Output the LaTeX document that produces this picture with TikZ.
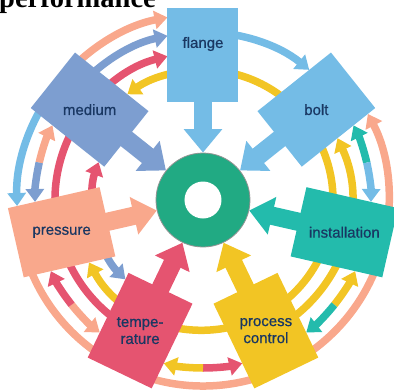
\documentclass[tikz,border=0pt]{standalone}
\usepackage{fontspec}
\setmainfont{Liberation Sans}
\newfontfamily\headfont{Liberation Serif}
\newfontfamily\boxfont{Liberation Sans}[FakeBold=0.6]
\usetikzlibrary{arrows.meta}

\definecolor{cflange}{RGB}{116,188,230}
\definecolor{cbolt}{RGB}{116,188,230}
\definecolor{cinstall}{RGB}{35,187,172}
\definecolor{cprocess}{RGB}{242,197,36}
\definecolor{ctemp}{RGB}{229,84,112}
\definecolor{cpressure}{RGB}{249,168,140}
\definecolor{cmedium}{RGB}{125,158,208}
\definecolor{cring}{RGB}{33,170,131}
\definecolor{ctext}{RGB}{25,55,98}

% colour, radius, start angle, end angle
\newcommand\flowarc[4]{\draw[flow,color=#1] (#3:#2pt) arc[start angle=#3,end angle=#4,radius=#2pt];}

\begin{document}
\begin{tikzpicture}[x=1pt,y=1pt]
\tikzstyle{box}=[rectangle,inner sep=0,outer sep=0,minimum width=71pt,minimum height=94pt]
\tikzstyle{boxtext}=[text=ctext,font=\boxfont\fontsize{15}{17}\selectfont,align=center,inner sep=0]
\tikzstyle{flow}=[line width=7.5pt,-{Triangle[width=18pt,length=13pt]}]
\tikzstyle{fat}=[line width=18.3pt,-{Triangle[width=37pt,length=23.4pt]},shorten <=-2pt]

\useasboundingbox (-203,-189) rectangle (191,200);
\clip (-203,-189) rectangle (191,200);

\node[anchor=base west,inner sep=0,font=\headfont\bfseries\fontsize{28.5}{30}\selectfont] (title) at (-204,193) {performance};

% outer ring
\flowarc{cflange}{186}{141.43}{181.85}
\flowarc{cpressure}{186}{141.43}{101.00}
\flowarc{cpressure}{186}{192.86}{387.57}

% neighbours
\flowarc{cmedium}{168}{141.43}{102.20}
\flowarc{cflange}{168}{90}{50.77}
\flowarc{cinstall}{168}{12.86}{26.37}
\flowarc{cbolt}{168}{12.86}{-0.66}
\flowarc{cprocess}{168}{-38.57}{-25.06}
\flowarc{cinstall}{168}{-38.57}{-52.09}
\flowarc{ctemp}{168}{-90}{-76.49}
\flowarc{cprocess}{168}{-90}{-103.52}
\flowarc{cpressure}{168}{-141.43}{-127.91}
\flowarc{ctemp}{168}{-141.43}{-154.94}
\flowarc{cpressure}{168}{167.14}{153.63}
\flowarc{cmedium}{168}{167.14}{180.66}

\flowarc{ctemp}{148}{244.29}{103.88}
\flowarc{cprocess}{148}{-64.29}{24.69}

\flowarc{cprocess}{130}{-64.29}{-151.30}
\flowarc{cprocess}{130}{-64.29}{125.58}

\flowarc{ctemp}{111}{192.86}{160.08}
\flowarc{cmedium}{111}{192.86}{225.63}

% boxes
\foreach \name/\ang/\col in {flange/90/cflange, bolt/38.5714/cbolt, install/-12.8571/cinstall, process/-64.2857/cprocess, temp/-115.7143/ctemp, pressure/-167.1429/cpressure, medium/141.4286/cmedium}
{
  \node[box,fill=\col,rotate=\ang-90] (\name) at (\ang:145pt) {};
}

\node[boxtext,yshift=11pt] (flange-t) at (flange) {flange};
\node[boxtext] (bolt-t) at (bolt) {bolt};
\node[boxtext] (install-t) at (install) {installation};
\node[boxtext] (process-t) at (process) {process\\control};
\node[boxtext] (temp-t) at (temp) {tempe-\\rature};
\node[boxtext] (pressure-t) at (pressure) {pressure};
\node[boxtext] (medium-t) at (medium) {medium};

% ring
\node[circle,fill=cring,draw=gray!85,line width=0.8pt,minimum size=94pt,inner sep=0] (ring) at (0,0) {};
\node[circle,fill=white,minimum size=37pt,inner sep=0] (hole) at (0,0) {};

\foreach \name/\col in {flange/cflange, bolt/cbolt, install/cinstall, process/cprocess, temp/ctemp, pressure/cpressure, medium/cmedium}
{
  \draw[fat,color=\col] (\name) -- (ring);
}

\end{tikzpicture}
\end{document}
